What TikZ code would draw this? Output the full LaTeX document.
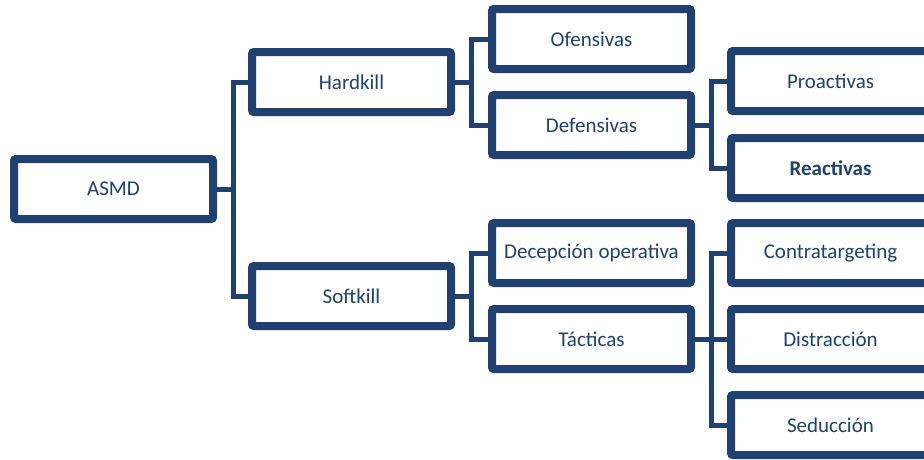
\documentclass[tikz,border=0pt]{standalone}
\usepackage{fontspec}
\setmainfont{Carlito}
\usepackage{tikz}
\usetikzlibrary{shadows}

\definecolor{navy}{RGB}{31,64,112}

\tikzset{
	box/.style = {draw = navy, line width = 8pt, fill = white, rounded corners = 2pt,
		minimum width = 199pt, minimum height = 60pt, text = navy,
		font = \fontsize{21}{24}\selectfont,
		drop shadow = {opacity = 0.25, shadow xshift = 1pt, shadow yshift = -2.5pt}},
	link/.style = {draw = navy, line width = 5pt},
	elbow/.style = {to path = {-- ++(16,0) |- (\tikztotarget)}}
}

\begin{document}
\begin{tikzpicture}[x = 1pt, y = -1pt]
	\useasboundingbox (0, 0) rectangle (924, 459);

	\node[box] (asmd) at (113.5, 189) {ASMD};

	\node[box] (hard) at (351.5, 82) {Hardkill};
	\node[box] (soft) at (351.5, 296) {Softkill};

	\node[box] (ofen) at (591.5, 39) {Ofensivas};
	\node[box] (defen) at (591.5, 125) {Defensivas};
	\node[box] (decep) at (591.5, 253) {Decepción operativa};
	\node[box] (tact) at (591.5, 339) {Tácticas};

	\node[box] (proac) at (830.5, 81) {Proactivas};
	\node[box] (reac) at (830.5, 168) {\textbf{Reactivas}};
	\node[box] (contra) at (830.5, 253) {Contratargeting};
	\node[box] (distr) at (830.5, 339) {Distracción};
	\node[box] (sedu) at (830.5, 425) {Seducción};

	\draw[link]
	(asmd.east) edge[elbow] (hard.west)
	(asmd.east) edge[elbow] (soft.west)

	(hard.east) edge[elbow] (ofen.west)
	(hard.east) edge[elbow] (defen.west)

	(soft.east) edge[elbow] (decep.west)
	(soft.east) edge[elbow] (tact.west)

	(defen.east) edge[elbow] (proac.west)
	(defen.east) edge[elbow] (reac.west)

	(tact.east) edge[elbow] (contra.west)
	(tact.east) edge[elbow] (distr.west)
	(tact.east) edge[elbow] (sedu.west);

\end{tikzpicture}
\end{document}
